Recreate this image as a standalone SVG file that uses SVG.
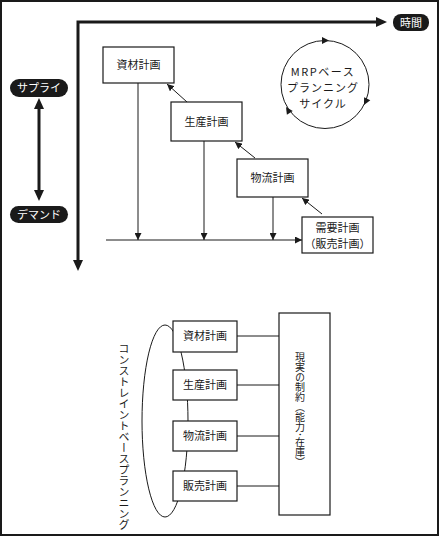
<svg xmlns="http://www.w3.org/2000/svg" width="440" height="537" viewBox="0 0 440 537">
<defs>
<style>
.box{fill:#fff;stroke:#1a1a1a;stroke-width:1.2}
.lbl{font-family:"Noto Sans CJK JP","Noto Sans",sans-serif;font-size:11px;fill:#1a1a1a;text-anchor:middle}
.pill{fill:#1a1a1a}
.pt{font-family:"Noto Sans CJK JP","Noto Sans",sans-serif;font-size:11px;fill:#fff;text-anchor:middle}
.thick{fill:none;stroke:#1a1a1a;stroke-width:3}
.thin{fill:none;stroke:#1a1a1a;stroke-width:1}
.head{fill:#1a1a1a}
.vt{font-family:"Noto Sans CJK JP",sans-serif;fill:#1a1a1a;writing-mode:vertical-rl}
</style>
<marker id="sa" markerUnits="userSpaceOnUse" markerWidth="7" markerHeight="7" refX="7" refY="3.5" orient="auto">
<path d="M0,0 L7,3.5 L0,7 z" fill="#1a1a1a"/>
</marker>
</defs>
<rect x="1" y="1" width="437" height="534" fill="#fff" stroke="#1a1a1a" stroke-width="2"/>

<g id="connectors">
<path class="thick" d="M78,264 L78,22 L380,22"/>
<polygon class="head" points="376,17 387,22 376,27"/>
<polygon class="head" points="73,260 78,271 83,260"/>
<line class="thick" x1="39" y1="106" x2="39" y2="193"/>
<polygon class="head" points="34,109 39,98 44,109"/>
<polygon class="head" points="34,190 39,201 44,190"/>
<line class="thin" x1="138" y1="83" x2="138" y2="240" marker-end="url(#sa)"/>
<line class="thin" x1="204" y1="141" x2="204" y2="240" marker-end="url(#sa)"/>
<line class="thin" x1="273" y1="197" x2="273" y2="240" marker-end="url(#sa)"/>
<line class="thin" x1="106" y1="240" x2="302" y2="240" marker-end="url(#sa)"/>
<line class="thin" x1="187" y1="102" x2="167" y2="84" marker-end="url(#sa)"/>
<line class="thin" x1="255" y1="158" x2="235" y2="142" marker-end="url(#sa)"/>
<line class="thin" x1="322" y1="214" x2="302" y2="198" marker-end="url(#sa)"/>
<ellipse cx="165" cy="421" rx="23" ry="96" class="thin"/>
<line class="thin" x1="237" y1="336" x2="279" y2="336"/>
<line class="thin" x1="237" y1="385" x2="279" y2="385"/>
<line class="thin" x1="237" y1="436" x2="279" y2="436"/>
<line class="thin" x1="237" y1="486" x2="279" y2="486"/>
</g>

<g id="cycle">
<circle cx="325" cy="84.5" r="44" class="thin"/>
<polygon class="head" points="0,-3.5 7,0 0,3.5" transform="translate(322,40.5)"/>
<polygon class="head" points="-7,-3.5 0,0 -7,3.5" transform="translate(364,105) rotate(117)"/>
<polygon class="head" points="-7,-3.5 0,0 -7,3.5" transform="translate(286,107) rotate(-123)"/>
<text class="lbl" x="323" y="76" letter-spacing="1.5">MRPベース</text>
<text class="lbl" x="323" y="92" letter-spacing="1">プランニング</text>
<text class="lbl" x="323" y="108" letter-spacing="1">サイクル</text>
</g>

<g id="time">
<rect class="pill" x="393" y="14" width="36" height="17" rx="8"/>
<text class="pt" x="411" y="27">時間</text>
</g>
<g id="supply">
<rect class="pill" x="10" y="79" width="58" height="18" rx="9"/>
<text class="pt" x="39" y="92">サプライ</text>
</g>
<g id="demand">
<rect class="pill" x="10" y="206" width="58" height="17" rx="8.5"/>
<text class="pt" x="39" y="219">デマンド</text>
</g>

<g id="shizai">
<rect class="box" x="103" y="47" width="71" height="36"/>
<text class="lbl" x="138.5" y="69">資材計画</text>
</g>
<g id="seisan">
<rect class="box" x="171" y="102" width="71" height="39"/>
<text class="lbl" x="206.5" y="126">生産計画</text>
</g>
<g id="butsuryu">
<rect class="box" x="237" y="159" width="71" height="38"/>
<text class="lbl" x="272.5" y="182">物流計画</text>
</g>
<g id="juyou">
<rect class="box" x="302" y="217" width="71" height="36"/>
<text class="lbl" x="337.5" y="232">需要計画</text>
<text class="lbl" x="337.5" y="248">（販売計画）</text>
</g>

<g id="shizai2">
<rect class="box" x="173" y="321" width="64" height="31"/>
<text class="lbl" x="205" y="340">資材計画</text>
</g>
<g id="seisan2">
<rect class="box" x="173" y="370" width="64" height="30"/>
<text class="lbl" x="205" y="389">生産計画</text>
</g>
<g id="butsuryu2">
<rect class="box" x="173" y="421" width="64" height="30"/>
<text class="lbl" x="205" y="440">物流計画</text>
</g>
<g id="hanbai2">
<rect class="box" x="173" y="471" width="64" height="30"/>
<text class="lbl" x="205" y="490">販売計画</text>
</g>
<g id="constraint">
<rect class="box" x="279" y="313" width="51" height="202"/>
<text class="vt" x="300" y="352" font-size="10">現実の制約（能力･在庫）</text>
</g>
<g id="cbp">
<text class="vt" x="124" y="343" font-size="11">コンストレイントベースプランニング</text>
</g>
</svg>
